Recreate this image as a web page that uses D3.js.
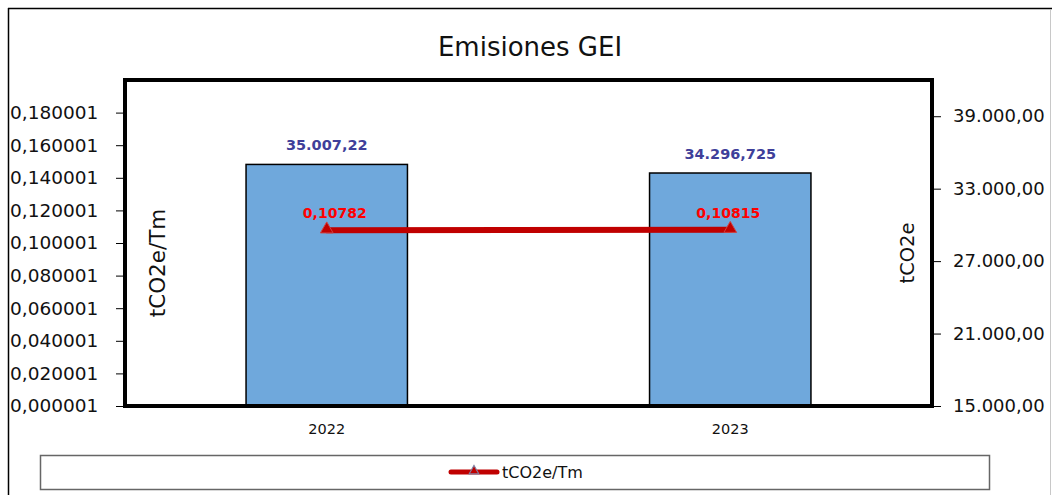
<!DOCTYPE html>
<html>
<head>
<meta charset="utf-8">
<script src="https://cdn.jsdelivr.net/npm/d3@7"></script>
<style>
  html, body { margin: 0; padding: 0; background: #fff; }
  svg { display: block; }
  text { font-family: "DejaVu Sans", sans-serif; }
</style>
</head>
<body>
<svg id="chart" width="1052" height="495"></svg>
<script>
// Chart data
const years = ["2022", "2023"];
const emissions = [35007.22, 34296.725];          // tCO2e (bars, right axis)
const emissionLabels = ["35.007,22", "34.296,725"];
const intensity = [0.10782, 0.10815];             // tCO2e/Tm (line, left axis)
const intensityLabels = ["0,10782", "0,10815"];
const leftTicks = [0.000001, 0.020001, 0.040001, 0.060001, 0.080001, 0.100001,
                   0.120001, 0.140001, 0.160001, 0.180001];
const leftTickLabels = ["0,000001", "0,020001", "0,040001", "0,060001", "0,080001",
                        "0,100001", "0,120001", "0,140001", "0,160001", "0,180001"];
const rightTicks = [15000, 21000, 27000, 33000, 39000];
const rightTickLabels = ["15.000,00", "21.000,00", "27.000,00", "33.000,00", "39.000,00"];

const svg = d3.select("#chart");
const plot = { left: 125, top: 80, right: 932, bottom: 406 };

// Outer frame
svg.append("line").attr("x1", 8).attr("x2", 1052).attr("y1", 8.5).attr("y2", 8.5)
  .attr("stroke", "#000").attr("stroke-width", 1.5);
svg.append("line").attr("x1", 8.5).attr("x2", 8.5).attr("y1", 8).attr("y2", 495)
  .attr("stroke", "#000").attr("stroke-width", 1.5);
svg.append("line").attr("x1", 1050.5).attr("x2", 1050.5).attr("y1", 10).attr("y2", 495)
  .attr("stroke", "#c8c8c8").attr("stroke-width", 1);

// Title
svg.append("text").attr("x", 530).attr("y", 56).attr("text-anchor", "middle")
  .attr("font-size", 26).attr("fill", "#111").text("Emisiones GEI");

// Scales
const x = d3.scaleBand().domain(years).range([plot.left, plot.right]).paddingInner(0).paddingOuter(0);
const barWidth = x.bandwidth() * 0.4;
const yLeft = d3.scaleLinear().domain([0.000001, 0.200001]).range([plot.bottom, plot.top]);
const yRight = d3.scaleLinear().domain([15000, 42000]).range([plot.bottom, plot.top]);

// Bars
svg.append("g").selectAll("rect").data(years).join("rect")
  .attr("x", d => x(d) + x.bandwidth() / 2 - barWidth / 2)
  .attr("y", (d, i) => yRight(emissions[i]))
  .attr("width", barWidth)
  .attr("height", (d, i) => plot.bottom - yRight(emissions[i]))
  .attr("fill", "#6FA8DC").attr("stroke", "#000").attr("stroke-width", 1.5);

// Bar value labels
svg.append("g").selectAll("text").data(years).join("text")
  .attr("x", d => x(d) + x.bandwidth() / 2)
  .attr("y", (d, i) => yRight(emissions[i]) - 14)
  .attr("text-anchor", "middle").attr("font-size", 14.5).attr("font-weight", "bold")
  .attr("fill", "#3F3F9A").text((d, i) => emissionLabels[i]);

// Plot area border
svg.append("rect").attr("x", plot.left).attr("y", plot.top)
  .attr("width", plot.right - plot.left).attr("height", plot.bottom - plot.top)
  .attr("fill", "none").attr("stroke", "#000").attr("stroke-width", 4);

// Left axis
const leftAxis = d3.axisLeft(yLeft).tickValues(leftTicks)
  .tickFormat((d, i) => leftTickLabels[i]).tickSize(7).tickPadding(8);
const gl = svg.append("g").attr("transform", `translate(${plot.left - 2},0)`).call(leftAxis);
gl.select(".domain").remove();
gl.selectAll(".tick line").attr("stroke", "#000");
gl.selectAll(".tick text").attr("font-size", 18.5).attr("fill", "#111")
  .attr("font-family", "DejaVu Sans, sans-serif")
  .attr("text-anchor", "start").attr("x", -(plot.left - 2) + 10);

// Right axis
const rightAxis = d3.axisRight(yRight).tickValues(rightTicks)
  .tickFormat((d, i) => rightTickLabels[i]).tickSize(7).tickPadding(12);
const gr = svg.append("g").attr("transform", `translate(${plot.right + 2},0)`).call(rightAxis);
gr.select(".domain").remove();
gr.selectAll(".tick line").attr("stroke", "#000");
gr.selectAll(".tick text").attr("font-size", 18).attr("fill", "#111")
  .attr("font-family", "DejaVu Sans, sans-serif").attr("x", 19);

// Category axis labels
svg.append("g").selectAll("text").data(years).join("text")
  .attr("x", d => x(d) + x.bandwidth() / 2).attr("y", 434)
  .attr("text-anchor", "middle").attr("font-size", 14.5).attr("fill", "#111").text(d => d);

// Axis titles
svg.append("text").attr("transform", "translate(165,263) rotate(-90)")
  .attr("text-anchor", "middle").attr("font-size", 21.5).attr("fill", "#111").text("tCO2e/Tm");
svg.append("text").attr("transform", "translate(914,253) rotate(-90)")
  .attr("text-anchor", "middle").attr("font-size", 19.5).attr("fill", "#111").text("tCO2e");

// Intensity line
const line = d3.line().x((d, i) => x(years[i]) + x.bandwidth() / 2).y(d => yLeft(d));
svg.append("path").datum(intensity).attr("d", line)
  .attr("fill", "none").attr("stroke", "#C00000").attr("stroke-width", 6)
  .attr("stroke-linecap", "round");

// Triangle markers
const tri = d3.symbol().type(d3.symbolTriangle).size(70);
svg.append("g").selectAll("path").data(intensity).join("path")
  .attr("d", tri)
  .attr("transform", (d, i) => `translate(${x(years[i]) + x.bandwidth() / 2},${yLeft(d) - 1})`)
  .attr("fill", "#C00000").attr("stroke", "#D04040").attr("stroke-width", 1);

// Intensity labels
svg.append("g").selectAll("text").data(intensity).join("text")
  .attr("x", (d, i) => x(years[i]) + x.bandwidth() / 2 + (i === 0 ? 8 : -2))
  .attr("y", d => yLeft(d) - 12)
  .attr("text-anchor", "middle").attr("font-size", 14).attr("font-weight", "bold")
  .attr("fill", "#FF0000").text((d, i) => intensityLabels[i]);

// Legend
svg.append("rect").attr("x", 40.5).attr("y", 455.5).attr("width", 949).attr("height", 34)
  .attr("fill", "#fff").attr("stroke", "#666").attr("stroke-width", 1.5);
svg.append("line").attr("x1", 451).attr("x2", 497).attr("y1", 472).attr("y2", 472)
  .attr("stroke", "#C00000").attr("stroke-width", 5).attr("stroke-linecap", "round");
svg.append("path").attr("d", d3.symbol().type(d3.symbolTriangle).size(40))
  .attr("transform", "translate(474,471)")
  .attr("fill", "#C00000").attr("stroke", "#8080A0").attr("stroke-width", 1.2);
svg.append("text").attr("x", 502).attr("y", 478).attr("font-size", 16)
  .attr("fill", "#111").text("tCO2e/Tm");
</script>
</body>
</html>
